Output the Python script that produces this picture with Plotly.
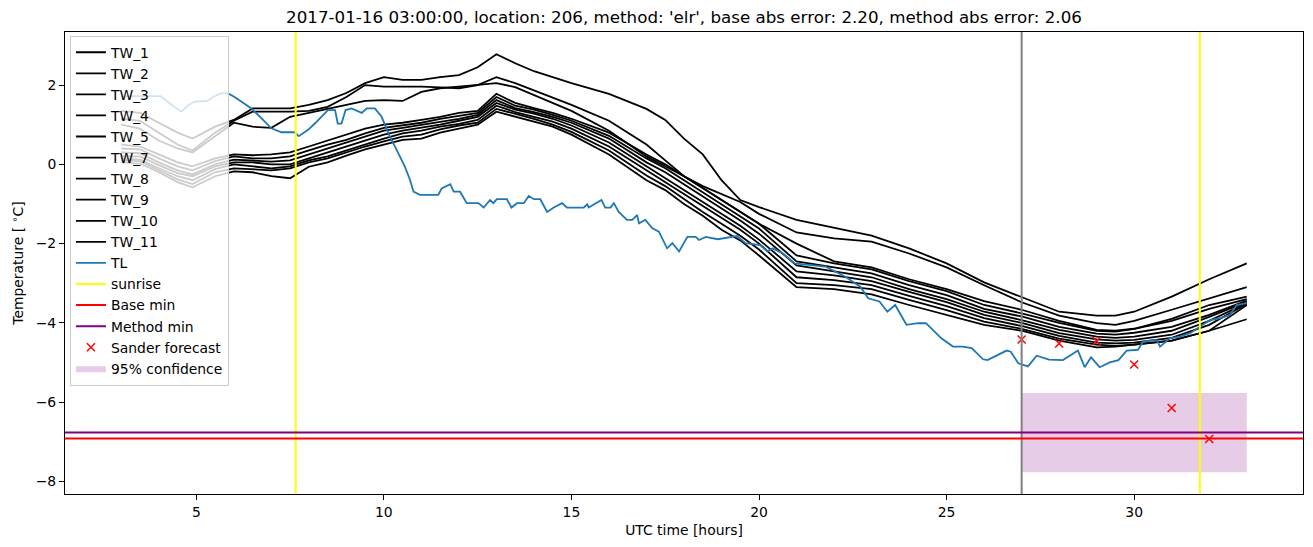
import plotly.graph_objects as go

# ---------------- data ----------------
TW_TIMES = [3, 3.5, 4, 4.5, 4.9, 5.5, 6,
            6.5, 7, 7.5, 8, 8.5, 9, 9.5, 10,
            10.5, 11, 11.5, 12, 12.5, 13, 13.5, 14,
            14.5, 15, 16, 17, 17.5, 18, 18.5, 19, 19.5, 20,
            21, 22, 23, 24, 25, 26, 27, 28, 29, 29.5, 30,
            31, 32, 33]

TW_NAMES = ["TW_1", "TW_2", "TW_3", "TW_4", "TW_5", "TW_7", "TW_8", "TW_9", "TW_10", "TW_11"]

TW_1 = [1.35, 1.3, 1.05, 0.8, 0.65, 0.95, 1.12,
        1.41, 1.41, 1.41, 1.5, 1.62, 1.8, 2.05, 2.2,
        2.13, 2.13, 2.2, 2.25, 2.45, 2.78, 2.55, 2.35,
        2.2, 2.05, 1.78, 1.4, 1.12, 0.65, 0.25, -0.4, -0.9, -1.08,
        -1.4, -1.6, -1.8, -2.12, -2.5, -2.98, -3.35, -3.72, -3.82, -3.82, -3.72,
        -3.34, -2.9, -2.5]
TW_2 = [1.15, 1.1, 0.8, 0.5, 0.35, 0.8, 1.1,
        1.33, 1.33, 1.33, 1.35, 1.45, 1.7, 2.0, 1.96,
        1.96, 1.96, 1.94, 1.92, 2.0, 2.2, 2.05, 1.87,
        1.7, 1.5, 1.1, 0.5, 0.1, -0.3, -0.55, -0.75, -0.95, -1.25,
        -1.72, -1.87, -1.95, -2.25, -2.6, -3.05, -3.48, -3.82, -4.01, -4.05, -3.95,
        -3.67, -3.38, -3.1]
TW_3 = [1.0, 0.9, 0.6, 0.4, 0.3, 0.7, 1.05,
        0.95, 0.92, 1.2, 1.3, 1.4, 1.5, 1.6, 1.62,
        1.6, 1.83, 1.92, 1.96, 2.0, 2.05, 1.95, 1.75,
        1.55, 1.35, 0.85, 0.2, -0.05, -0.3, -0.6, -0.9, -1.2, -1.5,
        -2.0, -2.45, -2.6, -2.9, -3.15, -3.45, -3.67, -3.95, -4.18, -4.2, -4.15,
        -3.9, -3.55, -3.34]
TW_4 = [0.5, 0.45, 0.25, 0.05, -0.05, 0.15, 0.25,
        0.23, 0.25, 0.3, 0.45, 0.6, 0.75, 0.9, 1.0,
        1.05, 1.12, 1.2, 1.3, 1.35, 1.78, 1.55, 1.42,
        1.3, 1.15, 0.8, 0.25, 0.0, -0.3, -0.6, -0.9, -1.2, -1.5,
        -2.3, -2.5, -2.65, -2.95, -3.2, -3.55, -3.76, -4.0, -4.2, -4.22, -4.15,
        -3.95, -3.65, -3.4]
TW_5 = [0.4, 0.38, 0.15, -0.05, -0.15, 0.08, 0.2,
        0.15, 0.15, 0.2, 0.35, 0.5, 0.62, 0.78, 0.92,
        0.98, 1.05, 1.15, 1.22, 1.3, 1.7, 1.48, 1.38,
        1.25, 1.1, 0.72, 0.15, -0.1, -0.4, -0.7, -1.0, -1.3, -1.62,
        -2.45, -2.6, -2.75, -3.05, -3.3, -3.65, -3.84, -4.1, -4.27, -4.3, -4.25,
        -4.1, -3.8, -3.44]
TW_7 = [0.3, 0.28, 0.05, -0.15, -0.25, 0.0, 0.12,
        0.1, 0.07, 0.1, 0.25, 0.4, 0.55, 0.7, 0.85,
        0.92, 1.0, 1.08, 1.15, 1.25, 1.62, 1.42, 1.32,
        1.2, 1.05, 0.65, 0.05, -0.2, -0.5, -0.8, -1.1, -1.42, -1.75,
        -2.55, -2.7, -2.85, -3.15, -3.4, -3.72, -3.93, -4.18, -4.35, -4.38, -4.35,
        -4.2, -3.85, -3.47]
TW_8 = [0.2, 0.2, -0.02, -0.22, -0.3, -0.05, 0.05,
        0.05, 0.0, 0.0, 0.15, 0.3, 0.45, 0.6, 0.75,
        0.85, 0.92, 1.0, 1.1, 1.2, 1.55, 1.38, 1.28,
        1.15, 0.98, 0.55, -0.05, -0.35, -0.65, -0.95, -1.25, -1.55, -1.9,
        -2.7, -2.8, -2.95, -3.22, -3.48, -3.8, -4.0, -4.26, -4.42, -4.45, -4.43,
        -4.3, -3.95, -3.5]
TW_9 = [0.15, 0.12, -0.1, -0.3, -0.4, -0.12, 0.0,
        -0.05, -0.1, -0.05, 0.1, 0.2, 0.35, 0.5, 0.65,
        0.78, 0.85, 0.95, 1.02, 1.12, 1.48, 1.32, 1.2,
        1.08, 0.9, 0.45, -0.15, -0.45, -0.75, -1.05, -1.35, -1.65, -2.0,
        -2.85, -2.92, -3.05, -3.32, -3.58, -3.88, -4.08, -4.33, -4.5, -4.52, -4.5,
        -4.38, -4.05, -3.52]
TW_10 = [0.1, 0.08, -0.15, -0.38, -0.5, -0.2, -0.1,
         -0.12, -0.15, -0.1, 0.05, 0.15, 0.3, 0.45, 0.58,
         0.7, 0.75, 0.88, 0.98, 1.05, 1.4, 1.28, 1.15,
         1.0, 0.82, 0.35, -0.28, -0.55, -0.88, -1.2, -1.5, -1.8, -2.15,
         -3.0, -3.05, -3.15, -3.42, -3.68, -3.97, -4.15, -4.4, -4.55, -4.58, -4.55,
         -4.45, -4.2, -3.55]
TW_11 = [0.05, 0.02, -0.2, -0.45, -0.58, -0.3, -0.18,
         -0.2, -0.3, -0.35, -0.06, 0.05, 0.22, 0.38, 0.5,
         0.62, 0.65, 0.8, 0.9, 1.0, 1.33, 1.2, 1.08,
         0.95, 0.75, 0.25, -0.4, -0.65, -1.0, -1.3, -1.65, -1.92, -2.3,
         -3.1, -3.15, -3.28, -3.55, -3.8, -4.05, -4.2, -4.45, -4.62, -4.6, -4.55,
         -4.45, -4.2, -3.91]

TW_SERIES = [TW_1, TW_2, TW_3, TW_4, TW_5, TW_7, TW_8, TW_9, TW_10, TW_11]

TL_TIMES = [3.0, 3.5, 4.05, 4.35, 4.6, 4.8, 4.95, 5.3, 5.45, 5.65, 5.85, 6.02,
            6.47, 6.74, 7.0, 7.27, 7.62, 7.73, 7.98, 8.16, 8.34, 8.51, 8.7, 8.77,
            8.87, 8.98, 9.14, 9.41, 9.54, 9.76, 9.94, 10.12, 10.3, 10.56, 10.7,
            10.79, 10.96, 11.45, 11.54, 11.77, 11.86, 12.03, 12.21, 12.52, 12.66,
            12.83, 12.92, 13.01, 13.28, 13.4, 13.55, 13.73, 13.86, 14.0, 14.17,
            14.35, 14.53, 14.75, 14.88, 15.33, 15.42, 15.46, 15.8, 15.9, 16.04,
            16.13, 16.26, 16.48, 16.62, 16.75, 16.8, 16.97, 17.15, 17.33, 17.55,
            17.69, 17.87, 18.09, 18.31, 18.4, 18.58, 18.9, 19.41, 19.64, 20.03,
            20.22, 20.36, 20.64, 20.95, 21.77, 22.29, 22.7, 22.91, 23.21, 23.42,
            23.63, 23.93, 24.24, 24.45, 24.86, 25.17, 25.43, 25.67, 25.97, 26.09,
            26.6, 26.71, 26.91, 27.17, 27.4, 27.73, 28.1, 28.5, 28.68, 28.85,
            29.08, 29.35, 29.58, 29.8, 30.1, 30.24, 30.6, 30.69, 30.95, 31.22,
            31.49, 31.75, 32.02, 32.3, 32.55, 32.73, 33.0]
TL_VALUES = [1.72, 1.72, 1.72, 1.5, 1.33, 1.5, 1.58, 1.6, 1.7, 1.79, 1.79, 1.70,
             1.41, 1.16, 0.91, 0.81, 0.81, 0.71, 0.87, 1.03, 1.2, 1.37, 1.37, 1.03,
             1.03, 1.37, 1.41, 1.30, 1.41, 1.41, 1.2, 0.78, 0.44, -0.06, -0.40,
             -0.69, -0.77, -0.77, -0.61, -0.5, -0.69, -0.69, -0.98, -0.98, -1.09,
             -0.9, -0.98, -0.88, -0.88, -1.09, -0.98, -0.98, -0.8, -0.88, -0.88,
             -1.2, -1.09, -0.98, -1.09, -1.09, -1.01, -1.09, -0.9, -1.09, -1.09,
             -0.98, -1.2, -1.4, -1.4, -1.28, -1.49, -1.4, -1.61, -1.7, -2.12,
             -1.99, -2.2, -1.83, -1.83, -1.91, -1.83, -1.89, -1.81, -1.99, -2.04,
             -2.2, -2.12, -2.25, -2.5, -2.58, -2.83, -3.09, -3.38, -3.46, -3.72,
             -3.55, -4.05, -4.01, -4.01, -4.39, -4.6, -4.6, -4.64, -4.92, -4.94,
             -4.7, -4.73, -5.02, -5.1, -4.83, -4.93, -4.94, -4.7, -5.12, -4.87,
             -5.12, -5.0, -4.94, -4.7, -4.68, -4.47, -4.43, -4.6, -4.39, -4.35,
             -4.26, -4.1, -3.93, -3.88, -3.8, -3.55, -3.5]

SUNRISE = [7.65, 31.75]
FORECAST_TIME = 27.0
BASE_MIN = -6.92
METHOD_MIN = -6.77
CONF_START, CONF_END = 27.0, 33.0
CONF_LOW, CONF_HIGH = -7.77, -5.77
SANDER_TIMES = [27, 28, 29, 30, 31, 32]
SANDER_VALUES = [-4.42, -4.52, -4.46, -5.05, -6.15, -6.93]

X_TICKS = [5, 10, 15, 20, 25, 30]
Y_TICKS = [-8, -6, -4, -2, 0, 2]
X_RANGE = [1.5, 34.5]
Y_RANGE = [-8.32, 3.34]

TITLE = ("2017-01-16 03:00:00, location: 206, method: 'elr', "
         "base abs error: 2.20, method abs error: 2.06")

# ---------------- figure ----------------
FONT = "DejaVu Sans"
fig = go.Figure()

# confidence band (drawn first, listed last in legend)
fig.add_trace(go.Scatter(
    x=[CONF_START, CONF_END, CONF_END, CONF_START, CONF_START],
    y=[CONF_LOW, CONF_LOW, CONF_HIGH, CONF_HIGH, CONF_LOW],
    fill="toself", fillcolor="rgba(128,0,128,0.2)", mode="lines",
    line=dict(width=0, color="rgba(128,0,128,0.2)"),
    name="95% confidence", legendrank=100, hoverinfo="skip"))

rank = 1
for name, vals in zip(TW_NAMES, TW_SERIES):
    fig.add_trace(go.Scatter(x=TW_TIMES, y=vals, mode="lines", name=name,
                             line=dict(color="black", width=1.8), legendrank=rank))
    rank += 1

fig.add_trace(go.Scatter(x=TL_TIMES, y=TL_VALUES, mode="lines", name="TL",
                         line=dict(color="#1f77b4", width=1.8), legendrank=rank))
rank += 1

for nm, col in [("sunrise", "yellow"), ("Base min", "red"), ("Method min", "purple")]:
    fig.add_trace(go.Scatter(x=[None], y=[None], mode="lines", name=nm,
                             line=dict(color=col, width=2), legendrank=rank))
    rank += 1

fig.add_trace(go.Scatter(x=SANDER_TIMES, y=SANDER_VALUES, mode="markers",
                         name="Sander forecast", legendrank=rank,
                         marker=dict(symbol="x-thin", size=8, color="red",
                                     line=dict(color="red", width=1.5))))

shapes = []
for s in SUNRISE:
    shapes.append(dict(type="line", xref="x", yref="y domain", x0=s, x1=s, y0=0, y1=1,
                       line=dict(color="yellow", width=2), layer="above"))
shapes.append(dict(type="line", xref="x", yref="y domain", x0=FORECAST_TIME, x1=FORECAST_TIME,
                   y0=0, y1=1, line=dict(color="gray", width=2), layer="above"))
shapes.append(dict(type="line", xref="x domain", yref="y", x0=0, x1=1, y0=BASE_MIN, y1=BASE_MIN,
                   line=dict(color="red", width=2), layer="above"))
shapes.append(dict(type="line", xref="x domain", yref="y", x0=0, x1=1, y0=METHOD_MIN, y1=METHOD_MIN,
                   line=dict(color="purple", width=2), layer="above"))

axis_common = dict(showline=True, linecolor="black", linewidth=1, mirror=True,
                   ticks="outside", ticklen=5, tickwidth=1, tickcolor="black",
                   showgrid=False, zeroline=False, automargin=False,
                   tickfont=dict(family=FONT, size=13.9, color="black"))

fig.update_layout(
    width=1313, height=547,
    margin=dict(l=65, r=10, t=32, b=53),
    paper_bgcolor="white", plot_bgcolor="white",
    font=dict(family=FONT, color="black"),
    title=dict(text=TITLE, x=0.5, xref="paper", xanchor="center",
               y=1 - 17 / 547, yref="container", yanchor="middle",
               font=dict(family=FONT, size=16.7, color="black")),
    xaxis=dict(range=X_RANGE, tickvals=X_TICKS,
               title=dict(text="UTC time [hours]", standoff=6,
                          font=dict(family=FONT, size=13.9)),
               **axis_common),
    yaxis=dict(range=Y_RANGE, tickvals=Y_TICKS,
               title=dict(text="Temperature [ <sup>∘</sup>C]", standoff=8,
                          font=dict(family=FONT, size=13.9)),
               **axis_common),
    shapes=shapes,
    showlegend=True,
    legend=dict(x=0.004, y=0.992, xanchor="left", yanchor="top",
                bgcolor="rgba(255,255,255,0.8)", bordercolor="#cccccc", borderwidth=1,
                font=dict(family=FONT, size=13.9, color="black"),
                itemwidth=30, traceorder="normal"),
)

fig.write_html("out.html",
               config={"displayModeBar": False},
               post_script="document.body.style.margin='0';"
                           "document.body.style.overflow='hidden';")
